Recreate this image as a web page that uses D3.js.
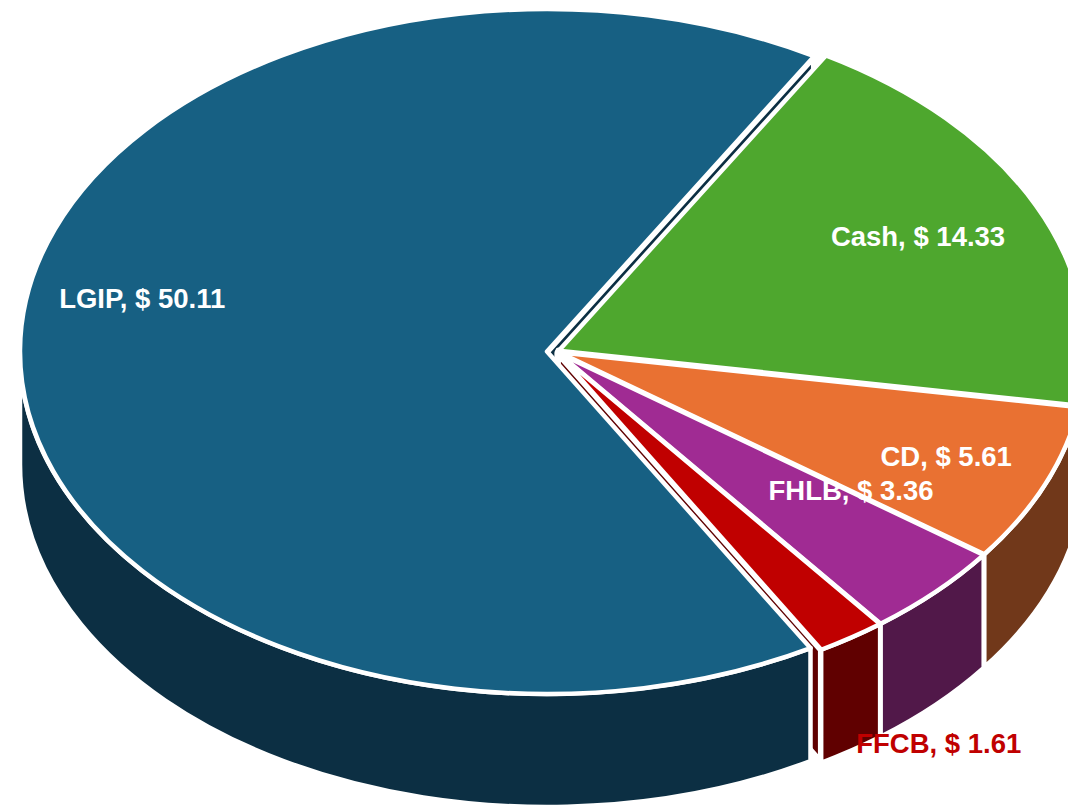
<!DOCTYPE html>
<html>
<head>
<meta charset="utf-8">
<script src="https://cdn.jsdelivr.net/npm/d3@7"></script>
<style>
  html, body { margin: 0; padding: 0; background: #fff; overflow: hidden; }
</style>
</head>
<body>
<svg id="chart"></svg>
<script>
// data
const categories = ["LGIP", "Cash", "CD", "FHLB", "FFCB"];
const values = [50.11, 14.33, 5.61, 3.36, 1.61];

// colours (top face / side face / label)
const topColors = ["#176083", "#4ea72e", "#e97132", "#a02b93", "#c00000"];
const sideColors = ["#0c2f43", "#265416", "#71381a", "#511849", "#600000"];
const labelColors = ["#ffffff", "#ffffff", "#ffffff", "#ffffff", "#c00000"];

// layout
const width = 1068, height = 810;
const cx = 556, cy = 351.5, rx = 527, ry = 342.5, depth = 113;
const startDeg = 150;
const explode = { LGIP: 9, Cash: 3, CD: 3, FHLB: 3, FFCB: 3 };
const labelFrac = 0.77;
const labelNudge = {
  LGIP: [1, -52], Cash: [-8, -2], CD: [13, 2], FHLB: [2, -46], FFCB: [155, 171]
};

const svg = d3.select("#chart")
    .attr("width", width)
    .attr("height", height)
    .style("display", "block");

const rows = categories.map((c, i) => ({
  name: c, value: values[i], top: topColors[i], side: sideColors[i], labelColor: labelColors[i]
}));

const a0 = startDeg * Math.PI / 180;
const pie = d3.pie()
    .sort(null)
    .value(d => d.value)
    .startAngle(a0)
    .endAngle(a0 + 2 * Math.PI);

const slices = pie(rows).map(s => {
  const mid = (s.startAngle + s.endAngle) / 2;
  const e = explode[s.data.name];
  s.mid = mid;
  s.ox = e * Math.sin(mid);
  s.oy = -e * Math.cos(mid) * ry / rx;
  return s;
});

// point on the ellipse of a slice, z pushes down by the depth
const pt = (s, a, r = 1, z = 0) => [
  cx + s.ox + rx * r * Math.sin(a),
  cy + s.oy - ry * r * Math.cos(a) + z
];

const topPath = s => {
  const c = pt(s, 0, 0), p0 = pt(s, s.startAngle), p1 = pt(s, s.endAngle);
  const large = (s.endAngle - s.startAngle) > Math.PI ? 1 : 0;
  return `M${c}L${p0}A${rx},${ry} 0 ${large} 1 ${p1}Z`;
};

const wallPath = (s, a) => {
  const c = pt(s, 0, 0), p = pt(s, a), pd = pt(s, a, 1, depth), cd = pt(s, 0, 0, depth);
  return `M${c}L${p}L${pd}L${cd}Z`;
};

// front part of the rim: angles between 90 and 270 degrees (also one turn later)
const sidePaths = s => {
  const out = [];
  [0, 2 * Math.PI].forEach(k => {
    const lo = Math.max(s.startAngle, Math.PI / 2 + k);
    const hi = Math.min(s.endAngle, 3 * Math.PI / 2 + k);
    if (hi > lo) {
      const p0 = pt(s, lo), p1 = pt(s, hi), q1 = pt(s, hi, 1, depth), q0 = pt(s, lo, 1, depth);
      out.push(`M${p0}A${rx},${ry} 0 0 1 ${p1}L${q1}A${rx},${ry} 0 0 0 ${q0}Z`);
    }
  });
  return out;
};

const stroke = { color: "#ffffff", width: 4.5, wall: 6.5 };

// cut walls that face the viewer
const walls = [];
slices.forEach(s => {
  if (Math.sin(s.startAngle) < 0) walls.push({ s, a: s.startAngle });
  if (Math.sin(s.endAngle) > 0) walls.push({ s, a: s.endAngle });
});

svg.append("g")
    .attr("class", "walls")
  .selectAll("path")
  .data(walls)
  .join("path")
    .attr("d", d => wallPath(d.s, d.a))
    .attr("fill", d => d.s.data.side)
    .attr("stroke", stroke.color)
    .attr("stroke-width", stroke.wall)
    .attr("stroke-linejoin", "round");

const sides = [];
slices.forEach(s => sidePaths(s).forEach(p => sides.push({ s, p })));

svg.append("g")
    .attr("class", "sides")
  .selectAll("path")
  .data(sides)
  .join("path")
    .attr("d", d => d.p)
    .attr("fill", d => d.s.data.side)
    .attr("stroke", stroke.color)
    .attr("stroke-width", stroke.width)
    .attr("stroke-linejoin", "round");

svg.append("g")
    .attr("class", "tops")
  .selectAll("path")
  .data(slices)
  .join("path")
    .attr("d", topPath)
    .attr("fill", d => d.data.top)
    .attr("stroke", stroke.color)
    .attr("stroke-width", stroke.width)
    .attr("stroke-linejoin", "round");

// data labels
svg.append("g")
    .attr("class", "labels")
  .selectAll("text")
  .data(slices)
  .join("text")
    .attr("x", d => pt(d, d.mid, labelFrac)[0] + labelNudge[d.data.name][0])
    .attr("y", d => pt(d, d.mid, labelFrac)[1] + labelNudge[d.data.name][1])
    .attr("dy", "0.35em")
    .attr("text-anchor", "middle")
    .style("font-family", "'Liberation Sans', Arial, sans-serif")
    .style("font-size", "27.5px")
    .style("font-weight", "700")
    .attr("fill", d => d.data.labelColor)
    .text(d => `${d.data.name}, $ ${d3.format(".2f")(d.data.value)}`);
</script>
</body>
</html>
